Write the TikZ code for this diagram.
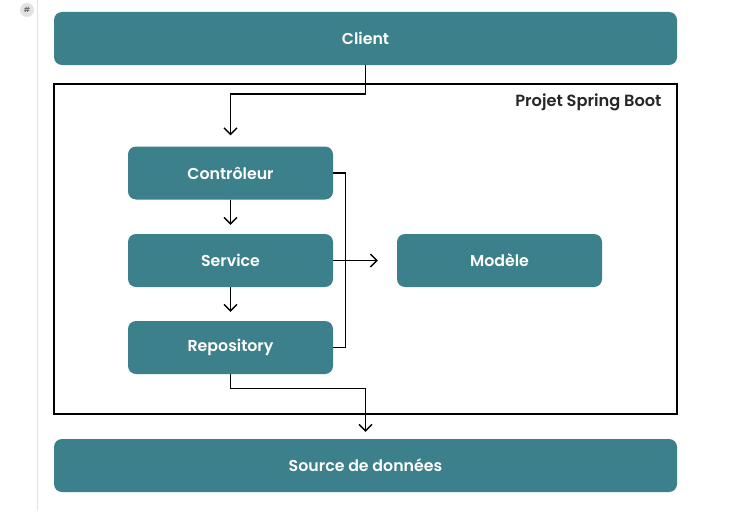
\documentclass[tikz,border=0pt]{standalone}
\usepackage{fontspec}
\setmainfont{Poppins}[UprightFont=* SemiBold]
\usetikzlibrary{arrows.meta,calc}
\definecolor{teal}{RGB}{59,128,138}
\definecolor{gutter}{RGB}{226,226,226}
\tikzset{
  block/.style={shape=rectangle,rounded corners=8pt,fill=teal,text=white,
    minimum width=205pt,minimum height=53pt,inner sep=0pt,
    font=\fontsize{15.8}{18}\selectfont},
  wide block/.style={block,minimum width=623pt},
  flow/.style={line width=1.4pt,-{Straight Barb[length=6.5pt,width=13pt,line width=1.4pt]}},
  link/.style={line width=1.4pt}
}

\begin{document}
\begin{tikzpicture}[x=1pt,y=-1pt]
\useasboundingbox (0,0) rectangle (746,511);
% page margin
\draw[gutter,line width=1pt](37,0)--(37,511);
\node [shape=circle,fill=gutter,minimum size=14pt,inner sep=0pt,
  font=\fontsize{7}{8}\selectfont,text=black!60] (tag) at (27,10){\#};
% frame
\draw[line width=1.5pt](54,84) rectangle (677,414);
\node[anchor=east,font=\fontsize{16.2}{18}\selectfont,text=black!85] (proj) at (665,102){Projet Spring Boot};
% blocks
\node [wide block] (client) at (365.5,38.5){Client};
\node [block] (ctrl) at (230.5,173){Contrôleur};
\node [block] (serv) at (230.5,260.5){Service};
\node [block] (repo) at (230.5,347.5){Repository};
\node [block] (model) at (499.5,260.5){Modèle};
\node [wide block] (source) at (365.5,465.5){Source de données};
% arrows
\draw[flow](client.south)--(client.south |- 0,94)-|([yshift=11pt]ctrl.north);
\draw[flow](ctrl.south)--([yshift=9pt]serv.north);
\draw[flow](serv.south)--([yshift=9pt]repo.north);
\draw[link](ctrl.east)--++(12,0)|-(repo.east); %bracket
\draw[flow](serv.east)--([xshift=-19pt]model.west);
\draw[flow](repo.south)--++(0,14)-|([yshift=7pt]source.north);
\end{tikzpicture}
\end{document}
